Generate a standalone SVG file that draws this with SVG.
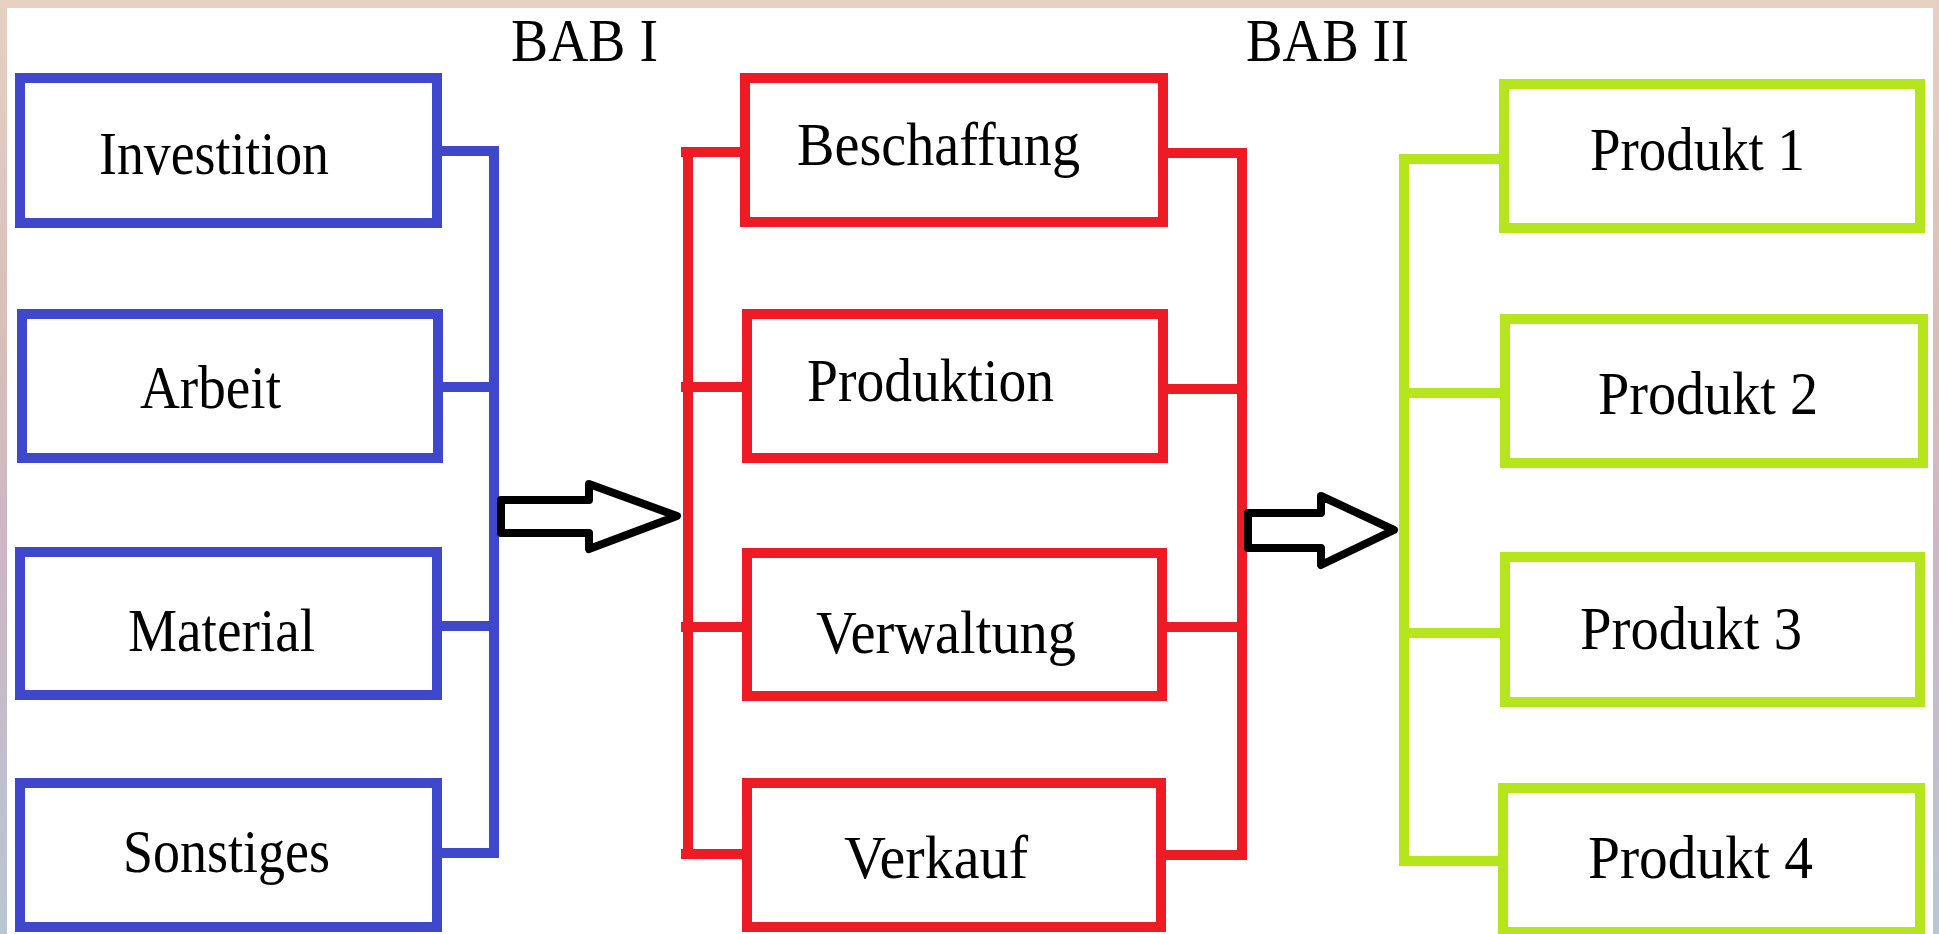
<svg xmlns="http://www.w3.org/2000/svg" width="1939" height="934" viewBox="0 0 1939 934">
<defs>
<linearGradient id="bg" x1="0" y1="0" x2="0" y2="1">
<stop offset="0" stop-color="#E6D0C2"/>
<stop offset="0.35" stop-color="#D8BFB8"/>
<stop offset="0.6" stop-color="#CDB6C6"/>
<stop offset="1" stop-color="#B8C6D4"/>
</linearGradient>
<style>
.blue{fill:none;stroke:#3F48CC;stroke-width:10}
.red{fill:none;stroke:#ED1C24;stroke-width:10}
.green{fill:none;stroke:#B5E61D;stroke-width:10}
.lbl{font-family:"Liberation Serif","Times New Roman",serif;font-size:61px;fill:#000}
.arrow{fill:#fff;stroke:#000;stroke-width:8;stroke-linejoin:round}
</style>
</defs>
<rect x="0" y="0" width="1939" height="934" fill="url(#bg)"/>
<rect x="7" y="8" width="1926" height="926" fill="#fff"/>

<text class="lbl" x="511" y="61" textLength="147" lengthAdjust="spacingAndGlyphs">BAB I</text>
<text class="lbl" x="1246" y="61" textLength="163" lengthAdjust="spacingAndGlyphs">BAB II</text>

<g id="connectors">
<path class="blue" d="M494 147V858M442 151H499M442 387H499M442 626H499M442 853H499"/>
<path class="red" d="M688 147V859M681 152H742M681 387H742M681 627H742M681 854H742"/>
<path class="red" d="M1242 148V860M1166 153H1247M1166 389H1247M1166 627H1247M1166 855H1247"/>
<path class="green" d="M1404 154V866M1400 159H1500M1400 393H1500M1400 633H1500M1400 861H1500"/>
<polygon class="arrow" points="501,500 589,500 589,484 677,516 589,549 589,533 501,533"/>
<polygon class="arrow" points="1248,513 1321,513 1321,496 1394,530 1321,565 1321,548 1248,548"/>
</g>

<g id="investition"><rect class="blue" x="20" y="78" width="417" height="145"/><text class="lbl" x="99" y="174" textLength="230" lengthAdjust="spacingAndGlyphs">Investition</text></g>
<g id="arbeit"><rect class="blue" x="22" y="314" width="416" height="144"/><text class="lbl" x="140" y="408" textLength="141" lengthAdjust="spacingAndGlyphs">Arbeit</text></g>
<g id="material"><rect class="blue" x="20" y="552" width="417" height="143"/><text class="lbl" x="128" y="651" textLength="187" lengthAdjust="spacingAndGlyphs">Material</text></g>
<g id="sonstiges"><rect class="blue" x="20" y="783" width="417" height="144"/><text class="lbl" x="123" y="872" textLength="207" lengthAdjust="spacingAndGlyphs">Sonstiges</text></g>

<g id="beschaffung"><rect class="red" x="745" y="78" width="418" height="144"/><text class="lbl" x="797" y="165" textLength="283" lengthAdjust="spacingAndGlyphs">Beschaffung</text></g>
<g id="produktion"><rect class="red" x="747" y="314" width="416" height="144"/><text class="lbl" x="807" y="401" textLength="247" lengthAdjust="spacingAndGlyphs">Produktion</text></g>
<g id="verwaltung"><rect class="red" x="747" y="553" width="415" height="143"/><text class="lbl" x="816" y="653" textLength="260" lengthAdjust="spacingAndGlyphs">Verwaltung</text></g>
<g id="verkauf"><rect class="red" x="747" y="783" width="414" height="144"/><text class="lbl" x="844" y="878" textLength="184" lengthAdjust="spacingAndGlyphs">Verkauf</text></g>

<g id="produkt1"><rect class="green" x="1504" y="84" width="416" height="144"/><text class="lbl" x="1590" y="170" textLength="215" lengthAdjust="spacingAndGlyphs">Produkt 1</text></g>
<g id="produkt2"><rect class="green" x="1505" y="319" width="418" height="144"/><text class="lbl" x="1598" y="414" textLength="220" lengthAdjust="spacingAndGlyphs">Produkt 2</text></g>
<g id="produkt3"><rect class="green" x="1505" y="557" width="415" height="145"/><text class="lbl" x="1580" y="649" textLength="222" lengthAdjust="spacingAndGlyphs">Produkt 3</text></g>
<g id="produkt4"><rect class="green" x="1503" y="788" width="417" height="144"/><text class="lbl" x="1588" y="878" textLength="225" lengthAdjust="spacingAndGlyphs">Produkt 4</text></g>
</svg>
